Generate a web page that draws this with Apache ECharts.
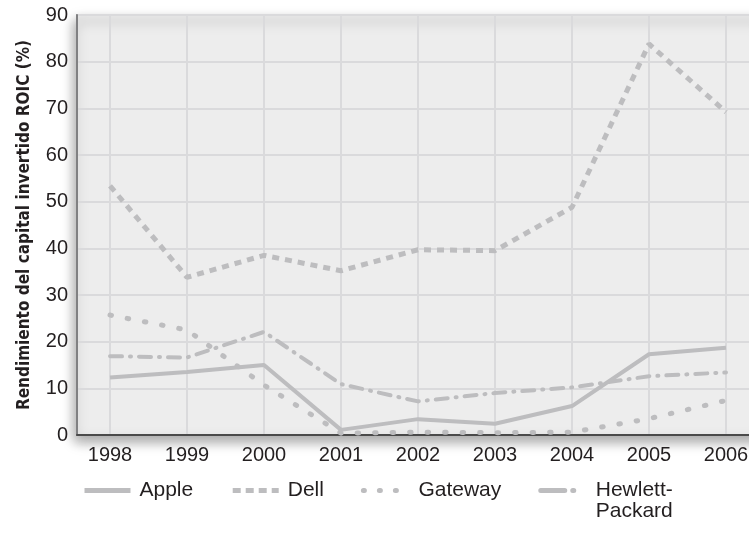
<!DOCTYPE html>
<html lang="es">
  <head>
    <meta charset="UTF-8" />
    <title>ROIC</title>
    <script src="https://cdn.jsdelivr.net/npm/echarts@6/dist/echarts.min.js"></script>
    <style>
      html, body { margin: 0; padding: 0; background: #fff; }
      #main { width: 749px; height: 540px; }
    </style>
  </head>
  <body>
    <div id="main"></div>
    <script>
      // datos
      var years = [1998, 1999, 2000, 2001, 2002, 2003, 2004, 2005, 2006];
      var apple = [12.3, 13.5, 15.0, 1.1, 3.4, 2.4, 6.2, 17.3, 18.7];
      var dell = [53.4, 33.8, 38.5, 35.2, 39.7, 39.5, 48.8, 83.8, 69.2];
      var gateway = [25.7, 22.5, 10.7, 0.4, 0.6, 0.5, 0.6, 3.5, 7.4];
      var hp = [16.9, 16.6, 22.1, 10.9, 7.2, 9.0, 10.2, 12.6, 13.4];
      var yTicks = [0, 10, 20, 30, 40, 50, 60, 70, 80, 90];

      function pairs(vals) {
        return years.map(function (y, i) {
          return [y, vals[i]];
        });
      }

      var lineColor = "#bdbdbf";
      var font = "'Liberation Sans', Arial, sans-serif";

      var myChart = echarts.init(document.getElementById("main"));

      var option = {
        animation: false,
        textStyle: { fontFamily: font },
        grid: {
          left: 77,
          top: 15,
          width: 687.5,
          height: 420,
          outerBoundsMode: "none",
          containLabel: false,
          show: true,
          backgroundColor: "#ededed",
          borderColor: "#c4c4c6",
          borderWidth: 2,
          shadowColor: "rgba(0,0,0,0.35)",
          shadowBlur: 12,
          shadowOffsetX: -2,
          shadowOffsetY: 6,
        },
        legend: {
          left: 77,
          top: 454,
          itemWidth: 46,
          itemHeight: 10,
          itemGap: 37,
          itemStyle: { opacity: 0, borderWidth: 0 },
          textStyle: {
            fontSize: 21,
            color: "#231f20",
            lineHeight: 21,
            padding: [0, 0, 0, 4],
          },
          formatter: function (name) {
            return name === "Hewlett-Packard" ? "\nHewlett-\nPackard" : name;
          },
          data: [
            { name: "Apple", lineStyle: { width: 5 } },
            { name: "Dell", lineStyle: { width: 5, type: [8, 5] } },
            { name: "Gateway", lineStyle: { width: 5, type: [1, 15], cap: "round" } },
            { name: "Hewlett-Packard", lineStyle: { width: 5, type: [24, 8, 1, 20], cap: "round" } },
          ],
        },
        xAxis: {
          type: "value",
          min: 1998 - 33 / 77,
          max: 2006.5,
          minInterval: 1,
          maxInterval: 1,
          axisLine: { show: true, lineStyle: { color: "#4a4a4a", width: 2 } },
          axisTick: { show: false },
          axisLabel: {
            fontSize: 20,
            color: "#231f20",
            margin: 10,
            formatter: function (v) {
              return Math.abs(v - Math.round(v)) < 1e-6 ? String(Math.round(v)) : "";
            },
          },
          splitLine: { show: true, lineStyle: { color: "#dadadc", width: 2 } },
        },
        yAxis: {
          type: "value",
          min: yTicks[0],
          max: yTicks[yTicks.length - 1],
          interval: 10,
          name: "Rendimiento del capital invertido ROIC (%)",
          nameLocation: "middle",
          nameRotate: 90,
          nameGap: 44,
          nameTextStyle: {
            fontFamily: "'Liberation Sans Narrow', 'DejaVu Sans Condensed', sans-serif",
            fontWeight: "bold",
            fontSize: 17,
            color: "#231f20",
          },
          axisLine: { show: true, lineStyle: { color: "#808082", width: 2 } },
          axisTick: { show: false },
          axisLabel: { fontSize: 20, color: "#231f20", margin: 9 },
          splitLine: { show: true, lineStyle: { color: "#dadadc", width: 2 } },
        },
        series: [
          {
            name: "Apple",
            type: "line",
            symbol: "none",
            data: pairs(apple),
            lineStyle: { color: lineColor, width: 4 },
            itemStyle: { color: lineColor },
          },
          {
            name: "Dell",
            type: "line",
            symbol: "none",
            data: pairs(dell),
            lineStyle: { color: lineColor, width: 5, type: [7, 6] },
            itemStyle: { color: lineColor },
          },
          {
            name: "Gateway",
            type: "line",
            symbol: "none",
            data: pairs(gateway),
            lineStyle: { color: lineColor, width: 5, type: [1.5, 16], cap: "round" },
            itemStyle: { color: lineColor },
          },
          {
            name: "Hewlett-Packard",
            type: "line",
            symbol: "none",
            data: pairs(hp),
            lineStyle: { color: lineColor, width: 4, type: [12, 8, 1, 8], cap: "round" },
            itemStyle: { color: lineColor },
          },
        ],
      };

      myChart.setOption(option);
    </script>
  </body>
</html>
